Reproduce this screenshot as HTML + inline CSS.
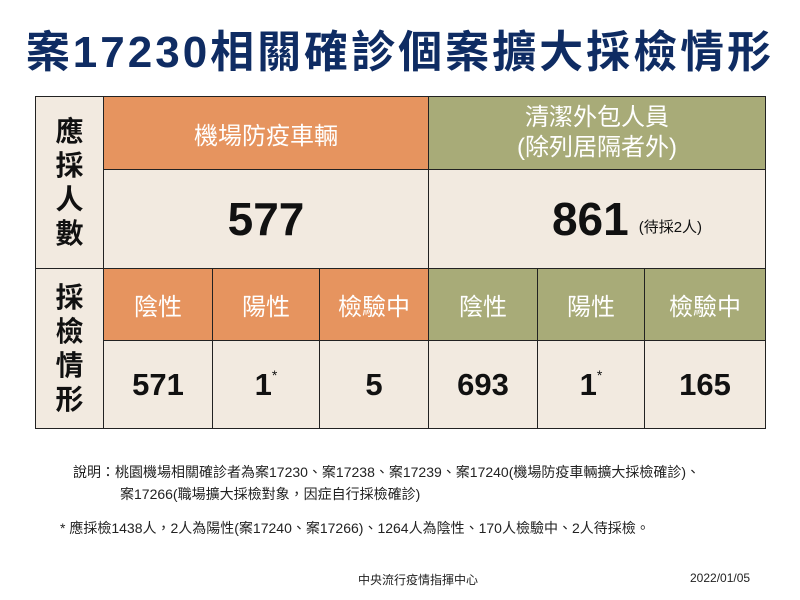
<!DOCTYPE html>
<html><head><meta charset="utf-8"><style>
body{margin:0;width:800px;height:600px;background:#fff;font-family:"Liberation Sans","Noto Sans CJK TC",sans-serif;position:relative;overflow:hidden}
.t{position:absolute;left:0;width:800px;top:16px;text-align:center;font-size:44px;font-weight:bold;color:#0f2c63;letter-spacing:3px}
.c{position:absolute;box-sizing:border-box;border:1.5px solid #222;display:flex;align-items:center;justify-content:center;text-align:center}
.b{background:#f2eae0}.o{background:#e6945f;color:#fff}.g{background:#a8ab78;color:#fff}
.h{font-size:24px}.n{font-size:31px;color:#111;font-weight:bold}.big{font-size:46px;color:#111;font-weight:bold}
.side{font-size:28px;line-height:34px;color:#111;font-weight:bold}
.note{position:absolute;font-size:14px;color:#222}
</style></head><body>
<div class="t">案17230相關確診個案擴大採檢情形</div>
<div class="c b side" style="left:35px;top:96px;width:69px;height:173px">應<br>採<br>人<br>數</div>
<div class="c b side" style="left:35px;top:268px;width:69px;height:161px">採<br>檢<br>情<br>形</div>
<div class="c o h" style="left:103px;top:96px;width:326px;height:74px">機場防疫車輛</div>
<div class="c g h" style="left:428px;top:96px;width:338px;height:74px;line-height:30px">清潔外包人員<br>(除列居隔者外)</div>
<div class="c b big" style="left:103px;top:169px;width:326px;height:100px">577</div>
<div class="c b big" style="left:428px;top:169px;width:338px;height:100px;padding-left:60px">861<span style="font-size:15px;font-weight:normal;margin-left:10px;margin-top:14px">(待採2人)</span></div>
<div class="c o h" style="left:103px;top:268px;width:110px;height:73px">陰性</div>
<div class="c o h" style="left:212px;top:268px;width:108px;height:73px">陽性</div>
<div class="c o h" style="left:319px;top:268px;width:110px;height:73px">檢驗中</div>
<div class="c g h" style="left:428px;top:268px;width:110px;height:73px">陰性</div>
<div class="c g h" style="left:537px;top:268px;width:108px;height:73px">陽性</div>
<div class="c g h" style="left:644px;top:268px;width:122px;height:73px">檢驗中</div>
<div class="c b n" style="left:103px;top:340px;width:110px;height:89px">571</div>
<div class="c b n" style="left:212px;top:340px;width:108px;height:89px">1<sup style="font-size:14px;font-weight:normal;align-self:flex-start;margin-top:26px">*</sup></div>
<div class="c b n" style="left:319px;top:340px;width:110px;height:89px">5</div>
<div class="c b n" style="left:428px;top:340px;width:110px;height:89px">693</div>
<div class="c b n" style="left:537px;top:340px;width:108px;height:89px">1<sup style="font-size:14px;font-weight:normal;align-self:flex-start;margin-top:26px">*</sup></div>
<div class="c b n" style="left:644px;top:340px;width:122px;height:89px">165</div>
<div class="note" style="left:73px;top:462px">說明：桃園機場相關確診者為案17230、案17238、案17239、案17240(機場防疫車輛擴大採檢確診)、</div>
<div class="note" style="left:120px;top:484px">案17266(職場擴大採檢對象，因症自行採檢確診)</div>
<div class="note" style="left:60px;top:518px">* 應採檢1438人，2人為陽性(案17240、案17266)、1264人為陰性、170人檢驗中、2人待採檢。</div>
<div class="note" style="left:358px;top:571px;font-size:12px">中央流行疫情指揮中心</div>
<div class="note" style="left:690px;top:571px;font-size:12px">2022/01/05</div>
</body></html>
